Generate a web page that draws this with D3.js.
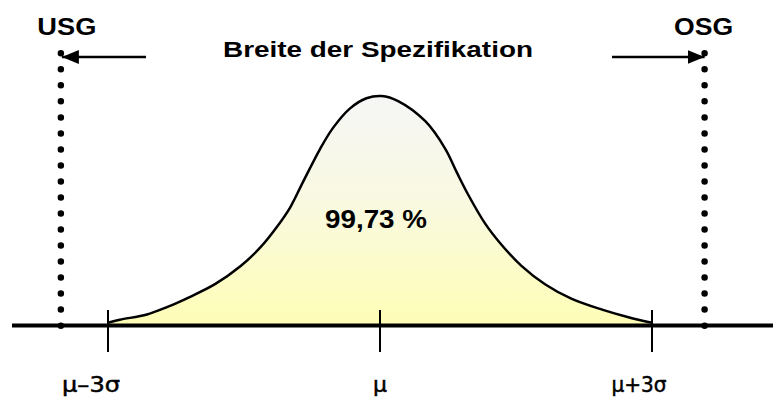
<!DOCTYPE html>
<html>
<head>
<meta charset="utf-8">
<script src="https://cdn.jsdelivr.net/npm/d3@7"></script>
<style>
  html, body { margin: 0; padding: 0; background: #ffffff; }
  svg { display: block; }
</style>
</head>
<body>
<svg id="chart" width="773" height="399"></svg>
<script>
// ---- data (x in sigma units around mu, y = relative density) ----
const curveX = [-3.00, -2.87, -2.57, -2.35, -2.10, -1.82, -1.54, -1.32, -1.14, -0.99, -0.85, -0.66, -0.52, -0.33, -0.15, 0.02,
                 0.20, 0.50, 0.72, 0.85, 0.97, 1.16, 1.34, 1.56, 1.82, 2.11, 2.45, 2.74, 3.00];
const curveY = [0.012, 0.025, 0.048, 0.080, 0.124, 0.180, 0.258, 0.340, 0.428, 0.515, 0.625, 0.770, 0.860, 0.946, 0.990, 1.000,
                0.978, 0.890, 0.770, 0.665, 0.572, 0.444, 0.352, 0.260, 0.180, 0.117, 0.069, 0.036, 0.012];
const tickValues = [-3, 0, 3];
const tickLabels = ["\u03BC\u20133\u03C3", "\u03BC", "\u03BC+3\u03C3"];
const limitValues = [-3.52, 3.58];
const limitLabels = ["USG", "OSG"];
const titleText = "Breite der Spezifikation";
const shareText = "99,73 %";

// ---- layout ----
const svg = d3.select("#chart");
const x = d3.scaleLinear().domain([-3, 3]).range([108, 652]);
const y = d3.scaleLinear().domain([0, 1]).range([325.5, 96]);
const baseY = y(0);
const FONT = "'Liberation Sans', Arial, sans-serif";

// gradient
const defs = svg.append("defs");
const grad = defs.append("linearGradient").attr("id", "fillGrad")
  .attr("gradientUnits", "userSpaceOnUse")
  .attr("x1", 0).attr("x2", 0).attr("y1", y(1)).attr("y2", baseY);
grad.append("stop").attr("offset", "0%").attr("stop-color", "#f6f6f6");
grad.append("stop").attr("offset", "45%").attr("stop-color", "#f9f9e2");
grad.append("stop").attr("offset", "100%").attr("stop-color", "#fefeb6");

defs.append("marker").attr("id", "arrowHead")
  .attr("viewBox", "0 0 17 14").attr("refX", 17).attr("refY", 7)
  .attr("markerWidth", 17).attr("markerHeight", 14)
  .attr("markerUnits", "userSpaceOnUse").attr("orient", "auto")
  .append("path").attr("d", "M0,0 L17,7 L0,14 Z").attr("fill", "#000");

const pts = curveX.map((v, i) => [v, curveY[i]]);
const curve = d3.curveCatmullRom.alpha(0.5);

// area fill
svg.append("path")
  .datum(pts)
  .attr("d", d3.area().x(d => x(d[0])).y0(baseY).y1(d => y(d[1])).curve(curve))
  .attr("fill", "url(#fillGrad)");

// curve line
svg.append("path")
  .datum(pts)
  .attr("d", d3.line().x(d => x(d[0])).y(d => y(d[1])).curve(curve))
  .attr("fill", "none").attr("stroke", "#000").attr("stroke-width", 2.5)
  .attr("stroke-linejoin", "round");

// spec limit dotted lines
svg.selectAll(".limit").data(limitValues).enter().append("line")
  .attr("class", "limit")
  .attr("x1", d => x(d)).attr("x2", d => x(d))
  .attr("y1", 53.3).attr("y2", baseY + 0.2)
  .attr("stroke", "#000").attr("stroke-width", 6.5)
  .attr("stroke-linecap", "round").attr("stroke-dasharray", "0,16.02");

// baseline
svg.append("line")
  .attr("x1", 12).attr("x2", 773).attr("y1", baseY).attr("y2", baseY)
  .attr("stroke", "#000").attr("stroke-width", 4);

// ticks
svg.selectAll(".tick").data(tickValues).enter().append("line")
  .attr("class", "tick")
  .attr("x1", d => x(d)).attr("x2", d => x(d))
  .attr("y1", 310).attr("y2", 352)
  .attr("stroke", "#000").attr("stroke-width", 2);

const labelDx = [-17, 0, -13];
const labelLen = [58, 14, 55];
svg.selectAll(".tickLabel").data(tickLabels).enter().append("text")
  .attr("class", "tickLabel")
  .attr("x", (d, i) => x(tickValues[i]) + labelDx[i])
  .attr("y", 392)
  .attr("text-anchor", "middle")
  .attr("font-family", "'DejaVu Sans', sans-serif")
  .attr("font-size", 21)
  .attr("textLength", (d, i) => labelLen[i])
  .attr("lengthAdjust", "spacingAndGlyphs")
  .attr("fill", "#000").attr("stroke", "#000").attr("stroke-width", 0.5)
  .text(d => d);

// limit labels
svg.selectAll(".limitLabel").data(limitLabels).enter().append("text")
  .attr("class", "limitLabel")
  .attr("x", (d, i) => x(limitValues[i]) + (i === 0 ? 6 : -1))
  .attr("y", 35)
  .attr("text-anchor", "middle")
  .attr("font-family", FONT).attr("font-weight", "bold").attr("font-size", 24)
  .attr("textLength", 59).attr("lengthAdjust", "spacingAndGlyphs")
  .attr("fill", "#000")
  .text(d => d);

// arrows
svg.append("line")
  .attr("x1", 146).attr("x2", x(limitValues[0]) + 1).attr("y1", 57).attr("y2", 57)
  .attr("stroke", "#000").attr("stroke-width", 2.5).attr("marker-end", "url(#arrowHead)");
svg.append("line")
  .attr("x1", 612).attr("x2", x(limitValues[1])).attr("y1", 57).attr("y2", 57)
  .attr("stroke", "#000").attr("stroke-width", 2.5).attr("marker-end", "url(#arrowHead)");

// title
svg.append("text")
  .attr("x", 378).attr("y", 57)
  .attr("text-anchor", "middle")
  .attr("font-family", FONT).attr("font-weight", "bold").attr("font-size", 22)
  .attr("textLength", 310).attr("lengthAdjust", "spacingAndGlyphs")
  .attr("fill", "#000")
  .text(titleText);

// percentage
svg.append("text")
  .attr("x", 376).attr("y", 228)
  .attr("text-anchor", "middle")
  .attr("font-family", FONT).attr("font-weight", "bold").attr("font-size", 25)
  .attr("textLength", 102).attr("lengthAdjust", "spacingAndGlyphs")
  .attr("fill", "#000")
  .text(shareText);
</script>
</body>
</html>
